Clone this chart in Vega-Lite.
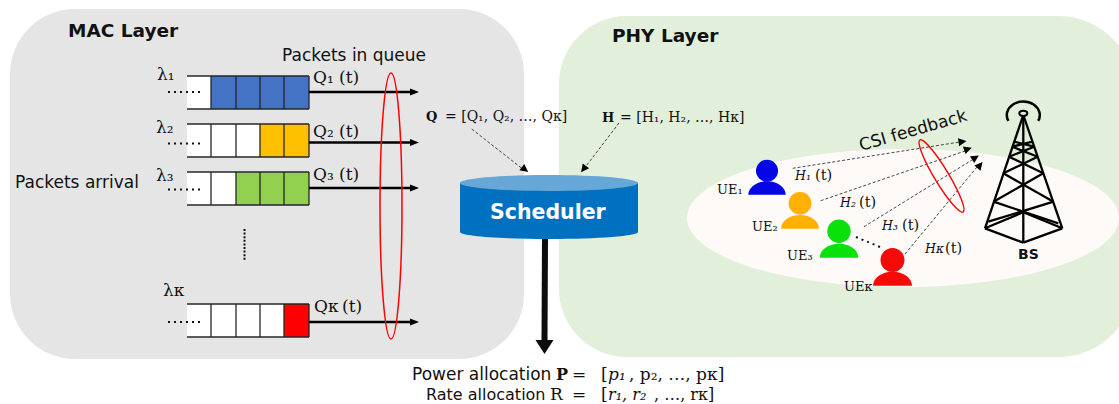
{
"$schema":"https://vega.github.io/schema/vega-lite/v6.json",
"width":1119,"height":404,"padding":0,"autosize":{"type":"none"},
"background":"white","view":{"stroke":null},
"encoding":{
 "x":{"field":"x","type":"quantitative","scale":{"domain":[0,1119],"nice":false,"zero":false},"axis":null},
 "y":{"field":"y","type":"quantitative","scale":{"domain":[404,0],"nice":false,"zero":false},"axis":null}
},
"resolve":{"scale":{"color":"independent","size":"independent"}},
"datasets":{
 "queueCells":[
  {"x":187,"x2":211,"y":76,"y2":109,"state":"empty"},{"x":211,"x2":236,"y":76,"y2":109,"state":"user 1"},{"x":236,"x2":260,"y":76,"y2":109,"state":"user 1"},{"x":260,"x2":284,"y":76,"y2":109,"state":"user 1"},{"x":284,"x2":309,"y":76,"y2":109,"state":"user 1"},
  {"x":187,"x2":211,"y":124,"y2":157,"state":"empty"},{"x":211,"x2":236,"y":124,"y2":157,"state":"empty"},{"x":236,"x2":260,"y":124,"y2":157,"state":"empty"},{"x":260,"x2":284,"y":124,"y2":157,"state":"user 2"},{"x":284,"x2":309,"y":124,"y2":157,"state":"user 2"},
  {"x":187,"x2":211,"y":172,"y2":205,"state":"empty"},{"x":211,"x2":236,"y":172,"y2":205,"state":"empty"},{"x":236,"x2":260,"y":172,"y2":205,"state":"user 3"},{"x":260,"x2":284,"y":172,"y2":205,"state":"user 3"},{"x":284,"x2":309,"y":172,"y2":205,"state":"user 3"},
  {"x":187,"x2":211,"y":304,"y2":337,"state":"empty"},{"x":211,"x2":236,"y":304,"y2":337,"state":"empty"},{"x":236,"x2":260,"y":304,"y2":337,"state":"empty"},{"x":260,"x2":284,"y":304,"y2":337,"state":"empty"},{"x":284,"x2":309,"y":304,"y2":337,"state":"user K"}
 ],
 "queueFrames":[
  {"x":187,"x2":309,"y":76,"y2":76},{"x":187,"x2":309,"y":109,"y2":109},{"x":211,"x2":211,"y":76,"y2":109},{"x":236,"x2":236,"y":76,"y2":109},{"x":260,"x2":260,"y":76,"y2":109},{"x":284,"x2":284,"y":76,"y2":109},{"x":309,"x2":309,"y":76,"y2":109},
  {"x":187,"x2":309,"y":124,"y2":124},{"x":187,"x2":309,"y":157,"y2":157},{"x":211,"x2":211,"y":124,"y2":157},{"x":236,"x2":236,"y":124,"y2":157},{"x":260,"x2":260,"y":124,"y2":157},{"x":284,"x2":284,"y":124,"y2":157},{"x":309,"x2":309,"y":124,"y2":157},
  {"x":187,"x2":309,"y":172,"y2":172},{"x":187,"x2":309,"y":205,"y2":205},{"x":211,"x2":211,"y":172,"y2":205},{"x":236,"x2":236,"y":172,"y2":205},{"x":260,"x2":260,"y":172,"y2":205},{"x":284,"x2":284,"y":172,"y2":205},{"x":309,"x2":309,"y":172,"y2":205},
  {"x":187,"x2":309,"y":304,"y2":304},{"x":187,"x2":309,"y":337,"y2":337},{"x":211,"x2":211,"y":304,"y2":337},{"x":236,"x2":236,"y":304,"y2":337},{"x":260,"x2":260,"y":304,"y2":337},{"x":284,"x2":284,"y":304,"y2":337},{"x":309,"x2":309,"y":304,"y2":337}
 ],
 "tower":[
  {"x":1023.3,"y":115,"x2":985,"y2":228.3},{"x":1023.3,"y":115,"x2":1062.3,"y2":228.3},{"x":1023.3,"y":115,"x2":1023.3,"y2":242.7},
  {"x":985,"x2":1023.3,"y":228.3,"y2":242.7},{"x":1062.3,"x2":1023.3,"y":228.3,"y2":242.7},
  {"x":985,"x2":1023.3,"y":228.3,"y2":212.3},{"x":1062.3,"x2":1023.3,"y":228.3,"y2":212.3},
  {"x":1053.5,"y":201.7,"x2":988.3,"y2":221.7},{"x":993.5,"y":201.7,"x2":1058.3,"y2":223.3},
  {"x":1003.3,"y":173.3,"x2":1053.5,"y2":201.7},{"x":1043.3,"y":173.3,"x2":993.5,"y2":201.7},
  {"x":1009,"y":156.7,"x2":1043.3,"y2":173.3},{"x":1037.7,"y":156.7,"x2":1003.3,"y2":173.3},
  {"x":1012.3,"y":146.7,"x2":1037.7,"y2":156.7},{"x":1034.2,"y":146.7,"x2":1009,"y2":156.7},
  {"x":1014.2,"y":141.7,"x2":1034.2,"y2":146.7},{"x":1032.5,"y":141.7,"x2":1012.3,"y2":146.7}
 ],
 "arrowHeads":[
  {"x":414.5,"y":92,"heading":0},{"x":414.5,"y":142.5,"heading":0},{"x":414.5,"y":188,"heading":0},{"x":414.5,"y":322,"heading":0}
 ],
 "thinHeads":[
  {"x":525,"y":169.5,"heading":38},{"x":583.5,"y":169,"heading":127},{"x":962.5,"y":141.7,"heading":351},{"x":968,"y":149,"heading":341},{"x":975.5,"y":157.5,"heading":328},{"x":980,"y":165,"heading":310}
 ],
 "users":[
  {"user":"UE1","x":767,"y":170.7,"by":194.7},{"user":"UE2","x":800,"y":203.3,"by":228.7},{"user":"UE3","x":839,"y":231.3,"by":257.7},{"user":"UEK","x":892.5,"y":260,"by":285.7}
 ]
},
"layer":[
 {"data":{"values":[{"panel":"MAC Layer","x":10,"x2":524,"y":9,"y2":359}]},"mark":{"type":"rect","cornerRadius":65,"color":"#e5e5e5"},"encoding":{"x2":{"field":"x2"},"y2":{"field":"y2"}}},
 {"data":{"values":[{"panel":"PHY Layer","x":559,"x2":1135,"y":16,"y2":357}]},"mark":{"type":"rect","cornerRadiusTopLeft":68,"cornerRadiusBottomLeft":68,"cornerRadiusTopRight":77,"cornerRadiusBottomRight":77,"color":"#e2efda","clip":false},"encoding":{"x2":{"field":"x2"},"y2":{"field":"y2"}}},
 {"data":{"values":[{"x":903,"y":218}]},"mark":{"type":"point","shape":"M-1,0 A1,0.32 0 1,1 1,0 A1,0.32 0 1,1 -1,0 Z","size":186624,"filled":true,"opacity":1,"color":"#fdfaf8","strokeWidth":0}},

 {"data":{"name":"queueCells"},"mark":{"type":"rect"},"encoding":{"x2":{"field":"x2"},"y2":{"field":"y2"},"color":{"field":"state","type":"nominal","legend":null,"scale":{"domain":["empty","user 1","user 2","user 3","user K"],"range":["#ffffff","#4472c4","#ffc000","#92d050","#ff0000"]}}}},
 {"data":{"name":"queueFrames"},"mark":{"type":"rule","color":"#262626","strokeWidth":1.3},"encoding":{"x2":{"field":"x2"},"y2":{"field":"y2"}}},
 {"data":{"values":[{"x":309,"x2":412,"y":92,"y2":92},{"x":309,"x2":412,"y":142.5,"y2":142.5},{"x":309,"x2":412,"y":188,"y2":188},{"x":309,"x2":412,"y":322,"y2":322}]},"mark":{"type":"rule","color":"#000000","strokeWidth":2.4},"encoding":{"x2":{"field":"x2"},"y2":{"field":"y2"}}},
 {"data":{"name":"arrowHeads"},"mark":{"type":"point","shape":"M1,0 L-1,-0.8 L-1,0.8 Z","size":81,"filled":true,"opacity":1,"color":"#000000","strokeWidth":0},"encoding":{"angle":{"field":"heading","type":"quantitative","scale":{"domain":[0,360],"range":[0,360]}}}},
 {"data":{"values":[{"x":168,"x2":201,"y":92,"y2":92},{"x":168,"x2":201,"y":143.5,"y2":143.5},{"x":168,"x2":201,"y":189.5,"y2":189.5},{"x":168,"x2":201,"y":322,"y2":322},{"x":856,"x2":880,"y":237,"y2":247}]},"mark":{"type":"rule","color":"#111111","strokeWidth":2,"strokeDash":[2,4]},"encoding":{"x2":{"field":"x2"},"y2":{"field":"y2"}}},
 {"data":{"values":[{"x":244.5,"x2":244.5,"y":229,"y2":261}]},"mark":{"type":"rule","color":"#111111","strokeWidth":2,"strokeDash":[2,1.6]},"encoding":{"x2":{"field":"x2"},"y2":{"field":"y2"}}},

 {"data":{"values":[{"x":471.7,"y":129,"x2":524,"y2":170},{"x":619,"y":123,"x2":583,"y2":170},{"x":792.7,"y":168.3,"x2":960,"y2":142},{"x":820.7,"y":200.7,"x2":965,"y2":151},{"x":864,"y":226.7,"x2":972,"y2":160},{"x":905,"y":254,"x2":977,"y2":167}]},"mark":{"type":"rule","color":"#333333","strokeWidth":0.9,"strokeDash":[3,2]},"encoding":{"x2":{"field":"x2"},"y2":{"field":"y2"}}},
 {"data":{"name":"thinHeads"},"mark":{"type":"point","shape":"M1,0 L-1,-1 L-1,1 Z","size":64,"filled":true,"opacity":1,"color":"#000000","strokeWidth":0},"encoding":{"angle":{"field":"heading","type":"quantitative","scale":{"domain":[0,360],"range":[0,360]}}}},

 {"data":{"values":[{"x":391,"y":206}]},"mark":{"type":"point","shape":"M0,-1 A0.0827,1 0 1,1 0,1 A0.0827,1 0 1,1 0,-1 Z","size":70756,"filled":false,"opacity":1,"color":"#ff0000","strokeWidth":1.5}},
 {"data":{"values":[{"x":941.5,"y":176}]},"mark":{"type":"point","shape":"M0,-1 A0.17,1 0 1,1 0,1 A0.17,1 0 1,1 0,-1 Z","size":7056,"filled":false,"opacity":1,"color":"#ff0000","strokeWidth":1.4,"angle":329}},

 {"data":{"values":[{"x":549,"y":232}]},"mark":{"type":"point","shape":"M-1,0 A1,0.0787 0 1,1 1,0 A1,0.0787 0 1,1 -1,0 Z","size":31684,"filled":true,"opacity":1,"color":"#0070c0","strokeWidth":0}},
 {"data":{"values":[{"x":460,"x2":638,"y":183,"y2":232}]},"mark":{"type":"rect","color":"#0070c0"},"encoding":{"x2":{"field":"x2"},"y2":{"field":"y2"}}},
 {"data":{"values":[{"x":549,"y":183}]},"mark":{"type":"point","shape":"M-1,0 A1,0.09 0 1,1 1,0 A1,0.09 0 1,1 -1,0 Z","size":31684,"filled":true,"opacity":1,"color":"#66a7d8","strokeWidth":0}},
 {"data":{"values":[{"x":545,"x2":544.5,"y":239,"y2":341}]},"mark":{"type":"rule","color":"#0d0d0d","strokeWidth":6},"encoding":{"x2":{"field":"x2"},"y2":{"field":"y2"}}},
 {"data":{"values":[{"x":544.5,"y":347}]},"mark":{"type":"point","shape":"M0,1 L-1.29,-1 L1.29,-1 Z","size":196,"filled":true,"opacity":1,"color":"#0d0d0d","strokeWidth":0}},

 {"data":{"name":"users"},"mark":{"type":"point","shape":"circle","filled":true,"opacity":1,"strokeWidth":0},"encoding":{
   "color":{"field":"user","type":"nominal","legend":null,"scale":{"domain":["UE1","UE2","UE3","UEK"],"range":["#0505e6","#ffb000","#0ae10a","#f50a0a"]}},
   "size":{"field":"user","type":"ordinal","legend":null,"scale":{"domain":["UE1","UE2","UE3","UEK"],"range":[484,576,576,576]}}}},
 {"data":{"name":"users"},"mark":{"type":"point","shape":"M-1,0 A1,0.72 0 0,1 1,0 Z","filled":true,"opacity":1,"strokeWidth":0},"encoding":{
   "y":{"field":"by","type":"quantitative"},
   "color":{"field":"user","type":"nominal","legend":null,"scale":{"domain":["UE1","UE2","UE3","UEK"],"range":["#0505e6","#ffb000","#0ae10a","#f50a0a"]}},
   "size":{"field":"user","type":"ordinal","legend":null,"scale":{"domain":["UE1","UE2","UE3","UEK"],"range":[1399,1521,1600,1521]}}}},

 {"data":{"name":"tower"},"mark":{"type":"rule","color":"#000000","strokeWidth":2.3},"encoding":{"x2":{"field":"x2"},"y2":{"field":"y2"}}},
 {"data":{"values":[{"x":1023.3,"y":115}]},"mark":{"type":"point","shape":"M-0.9,0.36 A1,0.82 0 1,1 0.9,0.36","size":1089,"filled":false,"opacity":1,"color":"#000000","strokeWidth":2.5}},
 {"data":{"values":[{"x":1023.3,"y":113.3}]},"mark":{"type":"point","shape":"M-1,0 A1,0.65 0 1,1 1,0 A1,0.65 0 1,1 -1,0 Z","size":64,"filled":false,"opacity":1,"color":"#000000","strokeWidth":2}},

 {"data":{"values":[{"x":68,"y":37,"t":"MAC Layer"},{"x":612,"y":42,"t":"PHY Layer"}]},"mark":{"type":"text","align":"left","baseline":"alphabetic","font":"DejaVu Sans","fontWeight":"bold","fontSize":18.5,"color":"#111111"},"encoding":{"text":{"field":"t"}}},
 {"data":{"values":[{"x":1018,"y":259,"t":"BS"}]},"mark":{"type":"text","align":"left","baseline":"alphabetic","font":"DejaVu Sans","fontWeight":"bold","fontSize":14,"color":"#111111"},"encoding":{"text":{"field":"t"}}},
 {"data":{"values":[{"x":490,"y":219,"t":"Scheduler"}]},"mark":{"type":"text","align":"left","baseline":"alphabetic","font":"DejaVu Sans","fontWeight":"bold","fontSize":20.5,"color":"#ffffff"},"encoding":{"text":{"field":"t"}}},
 {"data":{"values":[{"x":282,"y":61,"t":"Packets in queue"},{"x":15,"y":188,"t":"Packets arrival"},{"x":412,"y":380,"t":"Power allocation"}]},"mark":{"type":"text","align":"left","baseline":"alphabetic","font":"DejaVu Sans","fontSize":17,"color":"#111111"},"encoding":{"text":{"field":"t"}}},
 {"data":{"values":[{"x":426,"y":400,"t":"Rate allocation"}]},"mark":{"type":"text","align":"left","baseline":"alphabetic","font":"DejaVu Sans","fontSize":16,"color":"#111111"},"encoding":{"text":{"field":"t"}}},
 {"data":{"values":[{"x":861,"y":151,"t":"CSI feedback"}]},"mark":{"type":"text","align":"left","baseline":"alphabetic","font":"DejaVu Sans","fontSize":17,"color":"#111111","angle":344},"encoding":{"text":{"field":"t"}}},

 {"data":{"values":[{"x":313,"y":83,"t":"Q₁"},{"x":339,"y":83,"t":"(t)"},{"x":313,"y":137,"t":"Q₂"},{"x":339,"y":137,"t":"(t)"},{"x":313,"y":180,"t":"Q₃"},{"x":339,"y":180,"t":"(t)"},{"x":314,"y":312,"t":"Qᴋ"},{"x":342,"y":312,"t":"(t)"},{"x":157,"y":80,"t":"λ₁"},{"x":156,"y":133,"t":"λ₂"},{"x":156,"y":181,"t":"λ₃"},{"x":163,"y":296,"t":"λᴋ"},{"x":550,"y":400,"t":"R"},{"x":572,"y":380,"t":"="},{"x":572,"y":400,"t":"="},{"x":601,"y":380,"t":"["},{"x":601,"y":400,"t":"["},{"x":629,"y":380,"t":", p₂, …, pᴋ]"}]},"mark":{"type":"text","align":"left","baseline":"alphabetic","font":"DejaVu Serif","fontSize":17,"color":"#111111"},"encoding":{"text":{"field":"t"}}},
 {"data":{"values":[{"x":654,"y":400,"t":", …, rᴋ]"}]},"mark":{"type":"text","align":"left","baseline":"alphabetic","font":"DejaVu Serif","fontSize":16,"color":"#111111"},"encoding":{"text":{"field":"t"}}},
 {"data":{"values":[{"x":445,"y":120.7,"t":"= [Q₁, Q₂, …, Qᴋ]"},{"x":620,"y":122,"t":"= [H₁, H₂, …, Hᴋ]"}]},"mark":{"type":"text","align":"left","baseline":"alphabetic","font":"DejaVu Serif","fontSize":14,"color":"#111111"},"encoding":{"text":{"field":"t"}}},
 {"data":{"values":[{"x":717,"y":194,"t":"UE₁"},{"x":752,"y":231,"t":"UE₂"},{"x":787,"y":260,"t":"UE₃"},{"x":844,"y":291,"t":"UEᴋ"}]},"mark":{"type":"text","align":"left","baseline":"alphabetic","font":"DejaVu Serif","fontSize":13,"color":"#111111"},"encoding":{"text":{"field":"t"}}},
 {"data":{"values":[{"x":815,"y":180,"t":"(t)"},{"x":859,"y":207,"t":"(t)"},{"x":902,"y":230,"t":"(t)"},{"x":945,"y":253,"t":"(t)"}]},"mark":{"type":"text","align":"left","baseline":"alphabetic","font":"DejaVu Serif","fontSize":14.5,"color":"#111111"},"encoding":{"text":{"field":"t"}}},
 {"data":{"values":[{"x":426,"y":120.7,"t":"Q"},{"x":602,"y":122,"t":"H"}]},"mark":{"type":"text","align":"left","baseline":"alphabetic","font":"DejaVu Serif","fontWeight":"bold","fontSize":13,"color":"#111111"},"encoding":{"text":{"field":"t"}}},
 {"data":{"values":[{"x":795,"y":180,"t":"H₁"},{"x":840,"y":207,"t":"H₂"},{"x":882,"y":230,"t":"H₃"},{"x":925,"y":253,"t":"Hᴋ"}]},"mark":{"type":"text","align":"left","baseline":"alphabetic","font":"DejaVu Serif","fontStyle":"italic","fontSize":12.5,"color":"#111111"},"encoding":{"text":{"field":"t"}}},
 {"data":{"values":[{"x":556,"y":380,"t":"P"}]},"mark":{"type":"text","align":"left","baseline":"alphabetic","font":"DejaVu Serif","fontWeight":"bold","fontSize":16,"color":"#111111"},"encoding":{"text":{"field":"t"}}},
 {"data":{"values":[{"x":608,"y":380,"t":"p₁"}]},"mark":{"type":"text","align":"left","baseline":"alphabetic","font":"DejaVu Serif","fontStyle":"italic","fontSize":17,"color":"#111111"},"encoding":{"text":{"field":"t"}}},
 {"data":{"values":[{"x":608,"y":400,"t":"r₁, r₂"}]},"mark":{"type":"text","align":"left","baseline":"alphabetic","font":"DejaVu Serif","fontStyle":"italic","fontSize":16,"color":"#111111"},"encoding":{"text":{"field":"t"}}}
]
}
